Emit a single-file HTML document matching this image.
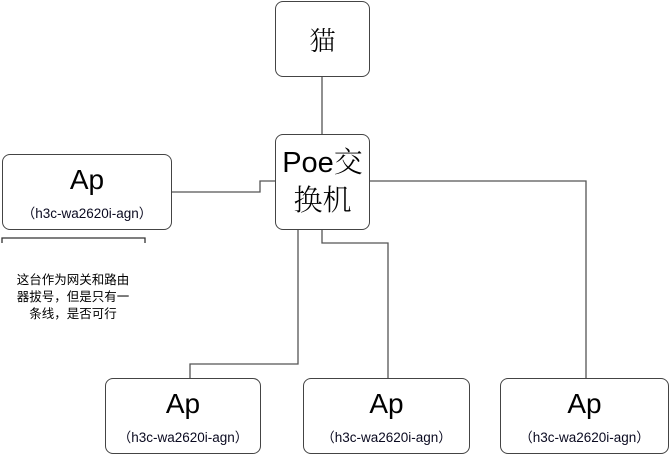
<!DOCTYPE html>
<html><head><meta charset="utf-8"><style>
body{margin:0;width:672px;height:455px;background:#fff;position:relative;overflow:hidden;font-family:"Liberation Sans","Noto Sans CJK SC",sans-serif;}
.b{position:absolute;border:1.3px solid #444;border-radius:8px;box-sizing:border-box;background:#fff;text-align:center;}
.ap{font-size:28px;line-height:30px;margin-top:10px;color:#000}
.sub{font-size:13.5px;margin-top:7px;color:#0a0a20}
</style></head><body>
<svg width="672" height="455" style="position:absolute;left:0;top:0" fill="none" stroke="#555" stroke-width="1.3">
<path d="M322 76V134"/>
<path d="M171 192H260V181H275"/>
<path d="M369 181H586V378"/>
<path d="M298 229V364H190V378"/>
<path d="M322 229V243H388V378"/>
<path d="M2 243V238H145V243" stroke="#333"/>
</svg>
<div class="b" style="left:275px;top:1px;width:95px;height:76px;"><div style="font-family:'Noto Serif CJK SC',serif;font-size:26px;line-height:76px;font-weight:300">猫</div></div>
<div class="b" style="left:275px;top:134px;width:95px;height:96px;"><div style="font-size:29px;line-height:38px;margin-top:9px;font-family:'Liberation Sans','Noto Serif CJK SC',serif;">Poe<span style="font-weight:300">交</span><br><span style="font-weight:300">换机</span></div></div>
<div class="b" style="left:2px;top:154px;width:170px;height:76px;"><div class="ap">Ap</div><div class="sub">（h3c-wa2620i-agn）</div></div>
<div class="b" style="left:105px;top:378px;width:156px;height:76px;"><div class="ap">Ap</div><div class="sub">（h3c-wa2620i-agn）</div></div>
<div class="b" style="left:303px;top:378px;width:167px;height:76px;"><div class="ap">Ap</div><div class="sub">（h3c-wa2620i-agn）</div></div>
<div class="b" style="left:500px;top:378px;width:169px;height:76px;"><div class="ap">Ap</div><div class="sub">（h3c-wa2620i-agn）</div></div>
<div style="position:absolute;left:8px;top:272px;width:130px;font-size:12.5px;line-height:17px;text-align:center;color:#000">这台作为网关和路由<br>器拔号，但是只有一<br>条线，是否可行</div>
</body></html>
